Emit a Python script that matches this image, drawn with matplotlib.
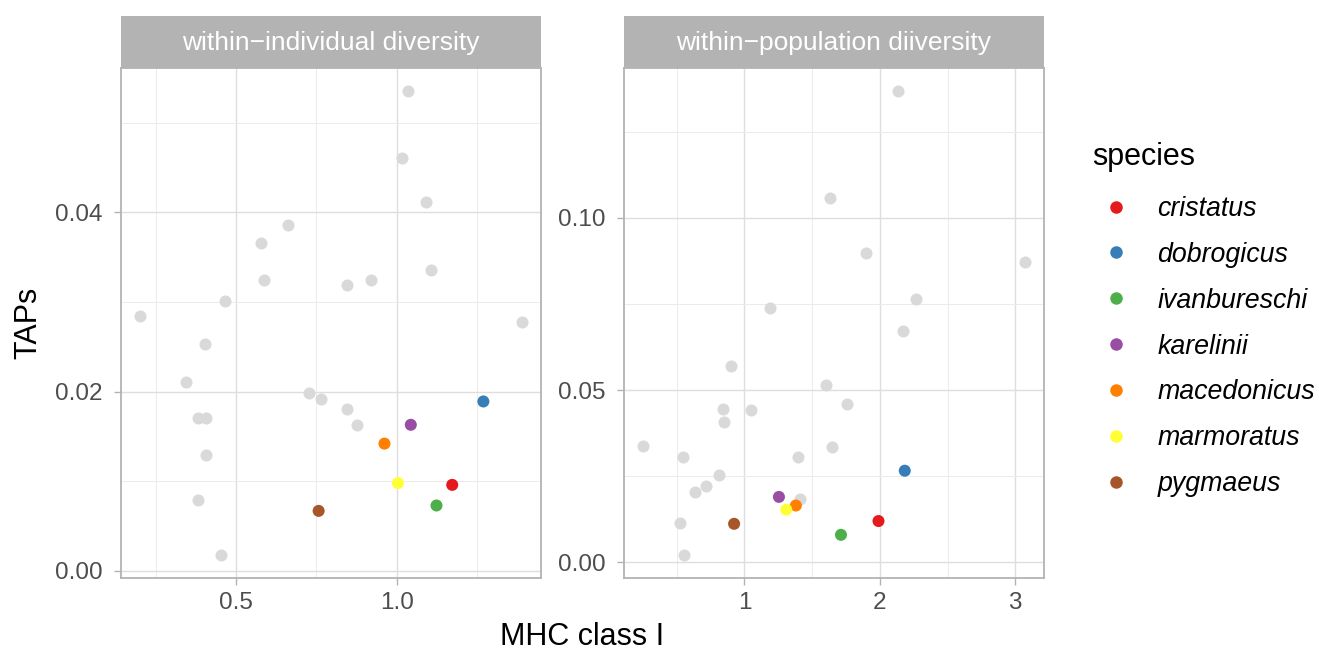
import matplotlib
matplotlib.use("Agg")
import matplotlib.pyplot as plt
from matplotlib.lines import Line2D
from matplotlib.ticker import MultipleLocator

plt.rcParams['font.family'] = ['Liberation Sans', 'DejaVu Sans']

species = ['cristatus', 'dobrogicus', 'ivanbureschi', 'karelinii',
           'macedonicus', 'marmoratus', 'pygmaeus']
colors = ['#E41A1C', '#377EB8', '#4DAF4A', '#984EA3',
          '#FF7F00', '#FFFF33', '#A65628']

# within-individual panel
ind_grey_x = [1.034, 1.016, 1.091, 0.661, 0.576, 0.588, 0.845, 0.919, 1.108,
              0.466, 0.201, 1.390, 0.404, 0.343, 0.728, 0.763, 0.845, 0.876,
              0.382, 0.406, 0.406, 0.382, 0.452]
ind_grey_y = [0.0535, 0.0460, 0.0411, 0.0386, 0.0366, 0.0324, 0.0319, 0.0325,
              0.0336, 0.0301, 0.0284, 0.0278, 0.0253, 0.0211, 0.0199, 0.0192,
              0.0181, 0.0163, 0.0171, 0.0171, 0.0129, 0.0079, 0.0018]
ind_sp_x = [1.173, 1.270, 1.124, 1.044, 0.962, 1.004, 0.757]
ind_sp_y = [0.0096, 0.0189, 0.0073, 0.0163, 0.0142, 0.0098, 0.0067]

# within-population panel
pop_grey_x = [2.132, 1.632, 1.895, 3.071, 2.270, 1.186, 2.170, 0.904, 1.605,
              1.760, 0.843, 1.046, 0.848, 0.252, 1.649, 0.549, 1.395, 0.811,
              0.718, 0.632, 1.414, 0.522, 0.554]
pop_grey_y = [0.1367, 0.1056, 0.0899, 0.0871, 0.0764, 0.0738, 0.0670, 0.0569,
              0.0515, 0.0460, 0.0446, 0.0441, 0.0407, 0.0338, 0.0336, 0.0307,
              0.0305, 0.0254, 0.0221, 0.0205, 0.0184, 0.0115, 0.0022]
pop_sp_x = [1.990, 2.184, 1.713, 1.255, 1.380, 1.309, 0.924]
pop_sp_y = [0.0120, 0.0266, 0.0080, 0.0190, 0.0165, 0.0153, 0.0112]

W, H = 1319, 653
fig = plt.figure(figsize=(W / 100, H / 100), dpi=100)


def panel(left, title, gx, gy, sx, sy, xmaj, xmin, ymaj, ymin):
    ax = fig.add_axes([left / W, (H - 578) / H, 420 / W, 510 / H])
    ax.scatter(gx, gy, s=75, color='#D9D9D9', linewidths=0, zorder=3)
    ax.scatter(sx, sy, s=75, c=colors, linewidths=0, zorder=4)
    allx = gx + sx
    ally = gy + sy
    dx = (max(allx) - min(allx)) * 0.05
    dy = (max(ally) - min(ally)) * 0.05
    ax.set_xlim(min(allx) - dx, max(allx) + dx)
    ax.set_ylim(min(ally) - dy, max(ally) + dy)
    ax.xaxis.set_major_locator(MultipleLocator(xmaj))
    ax.xaxis.set_minor_locator(MultipleLocator(xmin))
    ax.yaxis.set_major_locator(MultipleLocator(ymaj))
    ax.yaxis.set_minor_locator(MultipleLocator(ymin))
    ax.yaxis.set_major_formatter(lambda v, p: f'{v:.2f}')
    ax.grid(which='major', color='#DEDEDE', linewidth=1.0, zorder=0)
    ax.grid(which='minor', color='#EBEBEB', linewidth=0.7, zorder=0)
    ax.set_axisbelow(True)
    for s in ax.spines.values():
        s.set_color('#B3B3B3')
        s.set_linewidth(1.3)
    ax.tick_params(which='major', length=5, color='#B3B3B3', width=1,
                   labelsize=17.5, labelcolor='#4D4D4D', pad=5)
    ax.tick_params(axis='y', which='major', pad=8)
    ax.tick_params(which='minor', length=0)
    # strip
    st = fig.add_axes([left / W, (H - 68) / H, 420 / W, 52 / H])
    st.set_facecolor('#B3B3B3')
    st.set_xticks([])
    st.set_yticks([])
    for s in st.spines.values():
        s.set_visible(False)
    st.text(0.5, 0.48, title, color='white', fontsize=19,
            ha='center', va='center', transform=st.transAxes)
    return ax


ax1 = panel(121, 'within\u2212individual diversity', ind_grey_x, ind_grey_y,
            ind_sp_x, ind_sp_y, 0.5, 0.25, 0.02, 0.01)
ax1.xaxis.set_major_formatter(lambda v, p: f'{v:.1f}')
ax2 = panel(624, 'within\u2212population diiversity', pop_grey_x, pop_grey_y,
            pop_sp_x, pop_sp_y, 1, 0.5, 0.05, 0.025)
ax2.xaxis.set_major_formatter(lambda v, p: f'{v:.0f}')

fig.text(28 / W, 1 - 323 / H, 'TAPs', rotation=90, fontsize=22,
         ha='center', va='center')
fig.text(582 / W, 1 - 637 / H, 'MHC class I', fontsize=22,
         ha='center', va='center')

fig.text(1092 / W, 1 - 157 / H, 'species', fontsize=22,
         ha='left', va='center')
handles = [Line2D([], [], marker='o', linestyle='', markersize=9,
                  markerfacecolor=c, markeredgewidth=0) for c in colors]
leg = fig.legend(handles, species, loc='upper left',
                 bbox_to_anchor=(1103 / W, 1 - 196 / H), frameon=False,
                 prop={'style': 'italic', 'size': 19.3},
                 labelspacing=0.74, handletextpad=1.03, handlelength=1.0,
                 borderpad=0, borderaxespad=0)

fig.savefig('out.png', dpi=100)
